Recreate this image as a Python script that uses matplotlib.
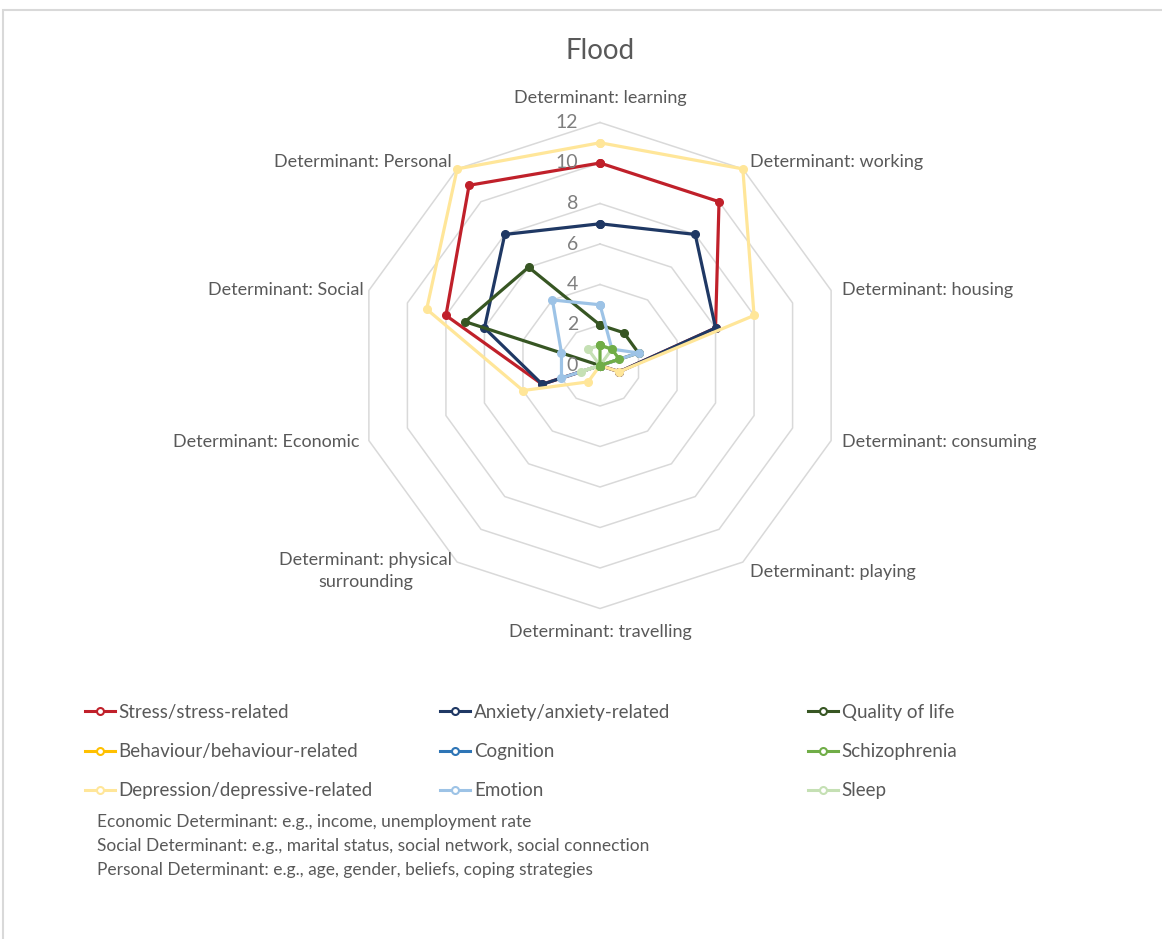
import matplotlib
matplotlib.use('Agg')
import matplotlib.pyplot as plt
import numpy as np
from matplotlib.lines import Line2D
from matplotlib.patches import Rectangle

plt.rcParams['font.family'] = ['Lato', 'DejaVu Sans']

# ---------------- data ----------------
categories = ["Determinant: learning", "Determinant: working", "Determinant: housing",
              "Determinant: consuming", "Determinant: playing", "Determinant: travelling",
              "Determinant: physical\nsurrounding", "Determinant: Economic",
              "Determinant: Social", "Determinant: Personal"]

stress = [10, 10, 6, 1, 0, 0, 0, 3, 8, 11]
anxiety = [7, 8, 6, 1, 0, 0, 0, 3, 6, 8]
quality_of_life = [2, 2, 2, 0, 0, 0, 0, 0, 7, 6]
behaviour = [0, 0, 0, 0, 0, 0, 0, 0, 0, 0]
cognition = [0, 0, 0, 0, 0, 0, 0, 0, 0, 0]
schizophrenia = [1, 1, 1, 0, 0, 0, 0, 0, 0, 0]
depression = [11, 12, 8, 1, 0, 0, 1, 4, 9, 12]
emotion = [3, 1, 2, 0, 0, 0, 0, 2, 2, 4]
sleep = [1, 1, 0, 0, 0, 0, 0, 1, 0, 1]

series_names = ["Stress/stress-related", "Anxiety/anxiety-related", "Quality of life",
                "Behaviour/behaviour-related", "Cognition", "Schizophrenia",
                "Depression/depressive-related", "Emotion", "Sleep"]
series_values = [stress, anxiety, quality_of_life, behaviour, cognition, schizophrenia,
                 depression, emotion, sleep]
series_colors = ["#C0202A", "#1F3864", "#375623", "#FFC000", "#2E75B6", "#70AD47",
                 "#FFE699", "#9DC3E6", "#C5E0B4"]
series_z = [3, 4, 5, 6, 7, 11, 8, 9, 10]

ticks = [0, 2, 4, 6, 8, 10, 12]
title = "Flood"
notes = ["Economic Determinant: e.g., income, unemployment rate",
         "Social Determinant: e.g., marital status, social network, social connection",
         "Personal Determinant: e.g., age, gender, beliefs, coping strategies"]

# ---------------- figure ----------------
W, H = 1162, 939
fig = plt.figure(figsize=(W / 100, H / 100), dpi=100)
fig.patch.set_facecolor('white')

cx, cy, R = 600, 365.5, 243
ax = fig.add_axes([(cx - R) / W, 1 - (cy + R) / H, 2 * R / W, 2 * R / H], projection='polar')
ax.set_theta_offset(np.pi / 2)
ax.set_theta_direction(-1)
ax.set_ylim(0, 12)
ax.set_axis_off()

n = len(categories)
theta = np.arange(n) * 2 * np.pi / n
theta_c = np.append(theta, theta[0])

grid_col = '#D9D9D9'
for r in ticks[1:]:
    ax.plot(theta_c, [r] * (n + 1), color=grid_col, lw=1.1, zorder=1, clip_on=False)

for name, vals, col, z in zip(series_names, series_values, series_colors, series_z):
    v = list(vals) + [vals[0]]
    ax.plot(theta_c, v, color=col, lw=2.3, marker='o', ms=5.5, mfc=col, mec=col,
            zorder=z, clip_on=False)

# radial tick labels
for t in ticks:
    ax.annotate(str(t), xy=(0, t), xytext=(-22, 0), textcoords='offset pixels',
                ha='right', va='center', fontsize=14, color='#7F7F7F', zorder=20)

# category labels
label_cfg = [
    ('center', (0, 25)),
    ('left', (7, 7)),
    ('left', (11, 0)),
    ('left', (11, -1)),
    ('left', (7, -10)),
    ('center', (0, -24)),
    ('right', (-5, -9)),
    ('right', (-9, -1)),
    ('right', (-5, 0)),
    ('right', (-5, 7)),
]
for th, lab, (ha, off) in zip(theta, categories, label_cfg):
    ax.annotate(lab, xy=(th, 12), xytext=off, textcoords='offset pixels',
                ha=ha, va='center', multialignment='center', fontsize=13,
                color='#595959', linespacing=1.45)

fig.text(cx / W, 1 - 51 / H, title, ha='center', va='center', fontsize=20, color='#595959')

# legends (three columns, row-wise order)
handles = [Line2D([0], [0], color=c, lw=2.2, marker='o', ms=5, mfc='white', mec=c, mew=1.5)
           for c in series_colors]
col_x = [85, 440, 808]
for ci in range(3):
    idx = [ci, ci + 3, ci + 6]
    fig.legend([handles[i] for i in idx], [series_names[i] for i in idx],
               loc='upper left', bbox_to_anchor=(col_x[ci] / W, 1 - 704 / H),
               frameon=False, fontsize=13.5, handlelength=1.6, handletextpad=0.2,
               labelspacing=1.18, borderpad=0, borderaxespad=0, labelcolor='#595959')

for i, txt in enumerate(notes):
    fig.text(97 / W, 1 - (822.5 + i * 23.5) / H, txt, ha='left', va='center',
             fontsize=12.5, color='#595959')

fig.add_artist(Rectangle((3 / W, -0.05), 1.1, (H - 10) / H + 0.05, transform=fig.transFigure,
                         fill=False, ec='#D9D9D9', lw=1.5))

fig.savefig('out.png', dpi=100, facecolor='white')
